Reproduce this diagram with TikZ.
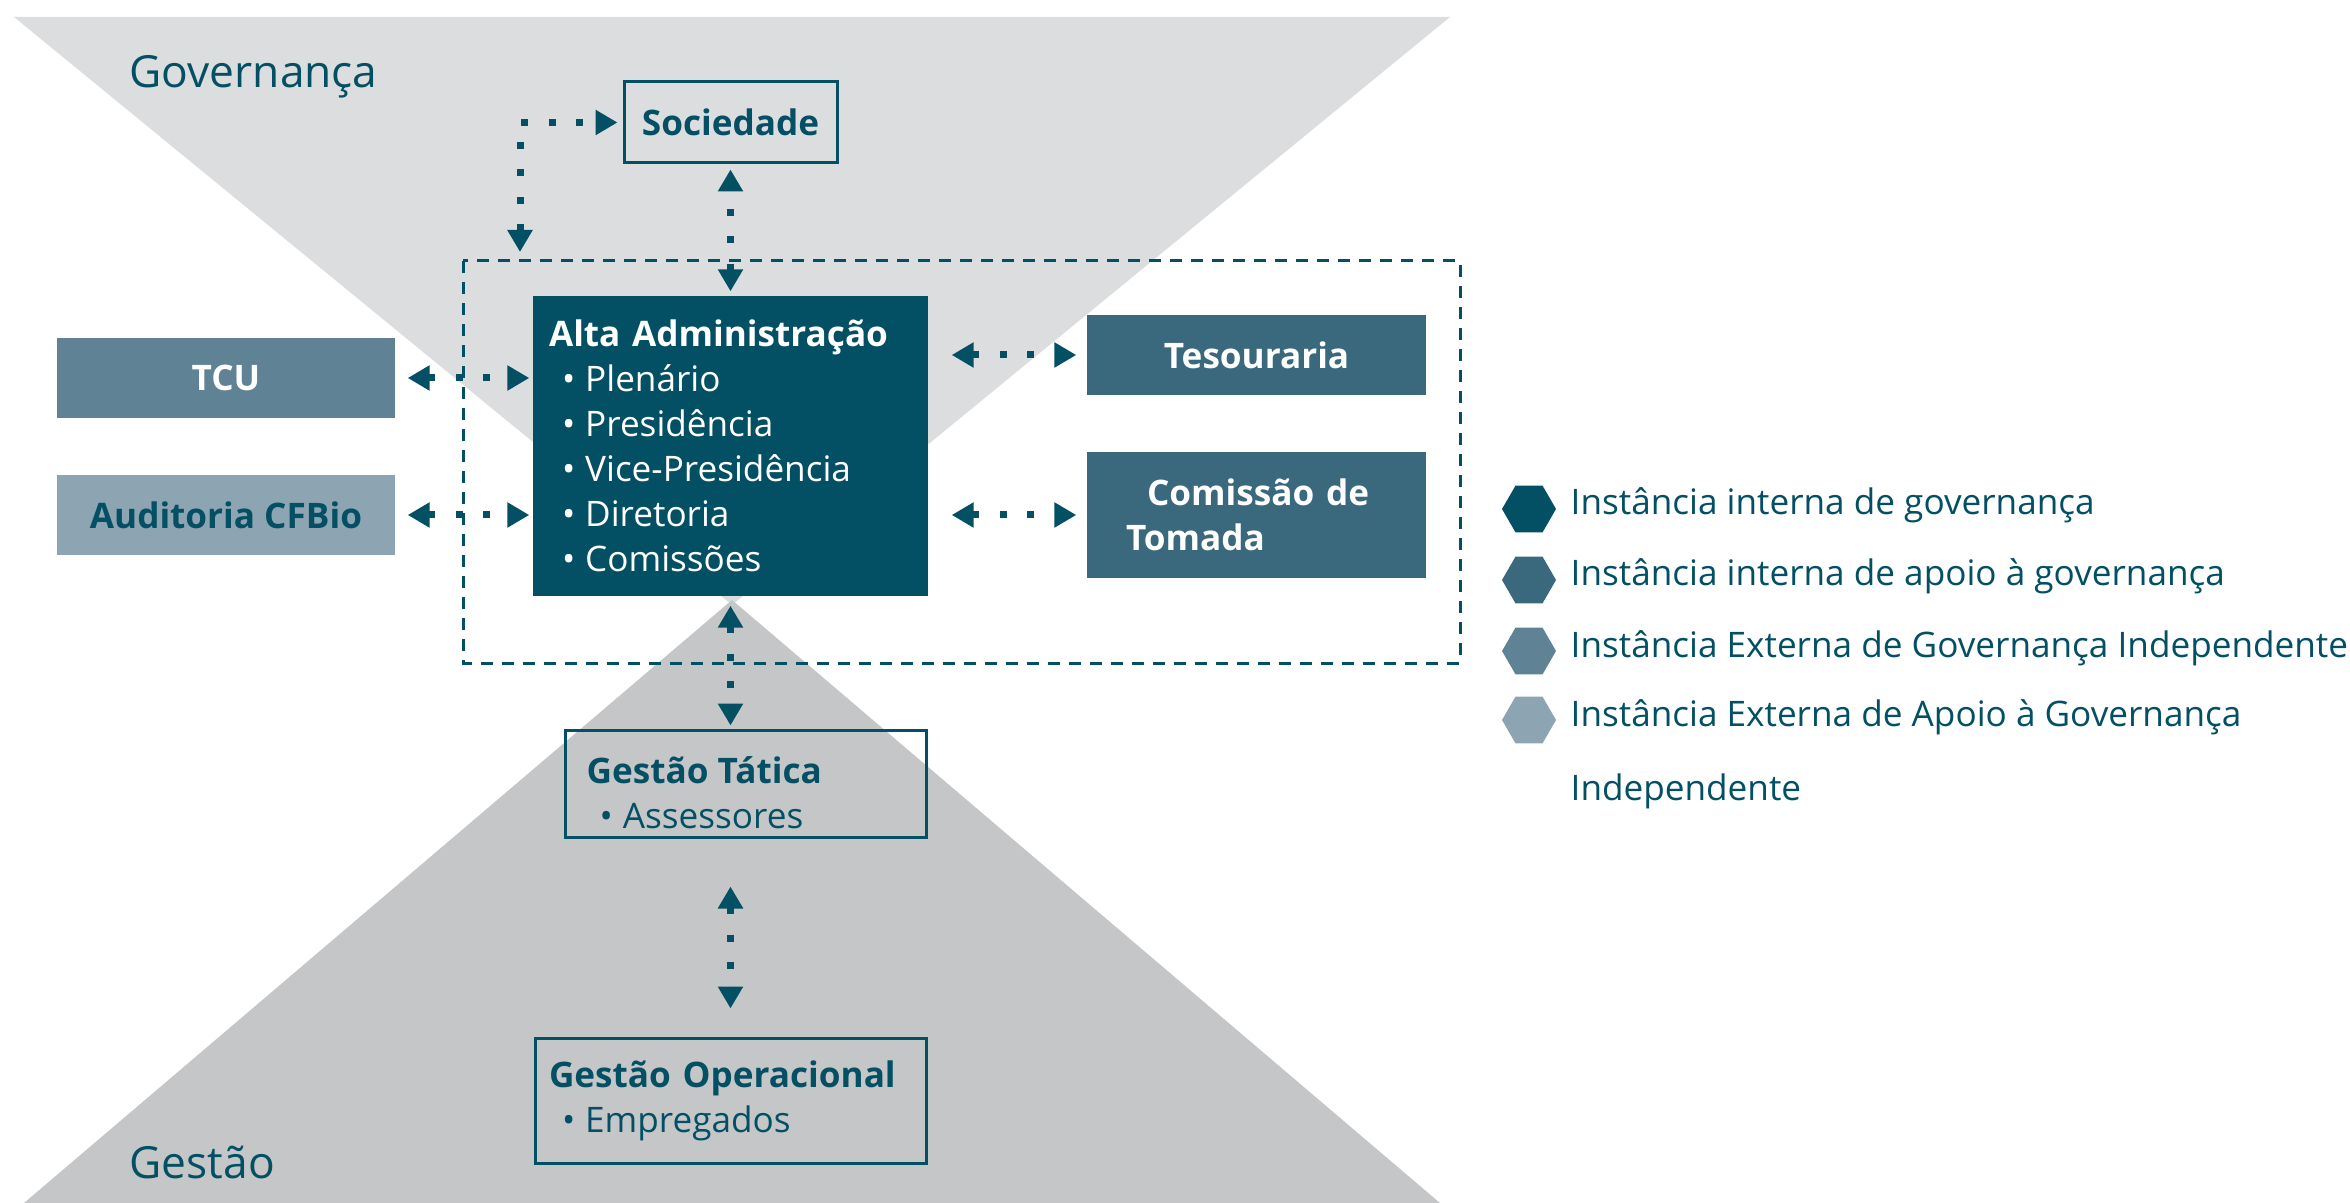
\documentclass[tikz,border=0pt]{standalone}
\usepackage{fontspec}
\setmainfont{Open Sans}
\usetikzlibrary{arrows.meta}
\usetikzlibrary{shapes.geometric}

\definecolor{govteal}{HTML}{034F63}
\definecolor{apoioteal}{HTML}{3A687C}
\definecolor{extgov}{HTML}{5F8295}
\definecolor{extapoio}{HTML}{8DA4B3}
\definecolor{topgray}{HTML}{DCDDDF}
\definecolor{botgray}{HTML}{C5C6C8}

\newcommand{\bulitem}[1]{\hspace*{1.3mm}\textbullet\hspace{1mm}#1}

\tikzset{
  box/.style={inner sep=0pt, font=\fontsize{10}{12.8}\selectfont},
  govbox/.style={box, fill=govteal, text=white},
  apoiobox/.style={box, fill=apoioteal, text=white, font=\fontsize{10}{12.8}\selectfont\bfseries},
  extbox/.style={box, fill=extgov, text=white, font=\fontsize{10}{12.8}\selectfont\bfseries},
  extapoiobox/.style={box, fill=extapoio, text=govteal, font=\fontsize{10}{12.8}\selectfont\bfseries},
  outlinebox/.style={box, draw=govteal, line width=0.3mm, text=govteal},
  conn/.style={draw=govteal, line width=0.7mm, dash pattern=on 0.7mm off 2.05mm,
    {Triangle[length=2.2mm,width=2.4mm]}-{Triangle[length=2.2mm,width=2.4mm]}},
  frame/.style={draw=govteal, line width=0.3mm, dash pattern=on 1.2mm off 0.9mm},
  zone/.style={text=govteal, font=\fontsize{12.6}{15}\selectfont},
  hexmark/.style={regular polygon, regular polygon sides=6, minimum size=5.4mm, inner sep=0pt},
  legtxt/.style={anchor=base west, inner sep=0pt, text=govteal, font=\fontsize{10}{21}\selectfont, align=left}
}

\begin{document}
\begin{tikzpicture}[x=0.1mm, y=-0.1mm]
    \useasboundingbox (0,0) rectangle (2350,1203);

    % governance and management funnels
    \fill[topgray] (14,17) -- (1450,17) -- (732,605) -- cycle;
    \fill[botgray] (24,1203) -- (1440,1203) -- (732,600) -- cycle;

    \node[zone, anchor=base west, inner sep=0pt] (govlbl) at (129,88) {Governança};
    \node[zone, anchor=base west, inner sep=0pt] (gestlbl) at (129,1178) {Gestão};

    % internal group
    \draw[frame] (463,261) rectangle (1460,663);

    \node[outlinebox, minimum width=21.3mm, minimum height=8.1mm] (soc) at (730.5,122.5) {\textbf{Sociedade}};
    \node[govbox, minimum width=39.5mm, minimum height=30mm, text width=36.3mm, inner xsep=1.6mm, align=left] (alta) at (730.5,446)
        {\textbf{Alta Administração}\\ \bulitem{Plenário}\\ \bulitem{Presidência}\\ \bulitem{Vice-Presidência}\\ \bulitem{Diretoria}\\ \bulitem{Comissões}};
    \node[extbox, minimum width=33.8mm, minimum height=8mm] (tcu) at (226,378) {TCU};
    \node[extapoiobox, minimum width=33.8mm, minimum height=8mm] (aud) at (226,515) {Auditoria CFBio};
    \node[apoiobox, minimum width=33.9mm, minimum height=8mm] (tes) at (1256.5,355) {Tesouraria};
    \node[apoiobox, minimum width=33.9mm, minimum height=12.6mm, text width=26.1mm, inner xsep=3.9mm, align=left] (com) at (1256.5,515)
        {\hspace*{2.1mm}Comissão de\\Tomada};
    \node[outlinebox, minimum width=36.1mm, minimum height=10.7mm] (tat) at (745.5,783.5) {};
    \node[box, text=govteal, anchor=west, align=left] (tattxt) at (586,793)
        {\textbf{Gestão Tática}\\ \bulitem{Assessores}};
    \node[outlinebox, minimum width=39.1mm, minimum height=12.5mm, text width=36.3mm, inner xsep=1.4mm, align=left] (op) at (730.5,1100.5)
        {\textbf{Gestão Operacional}\\ \bulitem{Empregados}};

    % connectors
    \coordinate (socdrop) at (520,252);
    \draw[conn, shorten >=0.5mm] (socdrop) |- (soc.west);
    \draw[conn, shorten <=0.4mm, shorten >=0.5mm] (alta.north) -- (soc.south);
    \draw[conn, shorten <=1.2mm, shorten >=0.3mm] (tcu.east) -- (tcu.east -| alta.west);
    \draw[conn, shorten <=1.2mm, shorten >=0.3mm] (aud.east) -- (aud.east -| alta.west);
    \draw[conn, shorten <=2.3mm, shorten >=1mm] (tes.west -| alta.east) -- (tes.west);
    \draw[conn, shorten <=2.3mm, shorten >=1mm] (com.west -| alta.east) -- (com.west);
    \draw[conn, shorten <=0.9mm, shorten >=0.3mm] (alta.south) -- (alta.south |- tat.north);
    \draw[conn, shorten <=4.8mm, shorten >=2.8mm] (op.north |- tat.south) -- (op.north);

    % legend
    \node[hexmark, fill=govteal] (hex1) at (1529,509) {};
    \node[hexmark, fill=apoioteal] (hex2) at (1529,580) {};
    \node[hexmark, fill=extgov] (hex3) at (1529,651) {};
    \node[hexmark, fill=extapoio] (hex4) at (1529,720) {};
    \node[legtxt] (leg1) at (1570,515) {Instância interna de governança};
    \node[legtxt] (leg2) at (1570,586) {Instância interna de apoio à governança};
    \node[legtxt] (leg3) at (1570,657) {Instância Externa de Governança Independente};
    \node[legtxt] (leg4) at (1570,800) {Instância Externa de Apoio à Governança\\Independente};
\end{tikzpicture}
\end{document}
